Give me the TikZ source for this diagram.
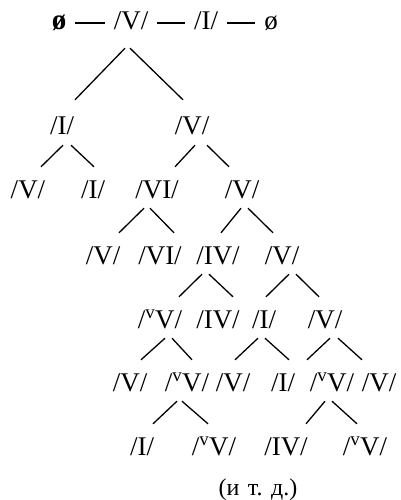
\documentclass[tikz,border=0pt]{standalone}
\usepackage{fontspec}
\setmainfont{Liberation Serif}
\usetikzlibrary{positioning}

\begin{document}
\begin{tikzpicture}[
  x=1pt, y=-1pt,
  chord/.style={inner sep=0pt, anchor=base, text height=31pt, text depth=10pt, font=\fontsize{27}{27}\selectfont},
  branch/.style={line width=1.3pt},
  link/.style={line width=1.1pt, shorten <=9pt, shorten >=9pt}
]
\useasboundingbox (0,0) rectangle (401,500);

% Top row
\node[chord, font=\fontsize{29}{29}\selectfont\bfseries] (z1) at (59,30) {ø};
\node[chord] (v0) at (131,30) {/V/};
\node[chord] (i0) at (206,30) {/I/};
\node[chord] (z2) at (271,30) {ø};

% Tree rows
\node[chord] (a) at (62,135) {/I/};
\node[chord] (b) at (192,135) {/V/};

\node[chord] (c1) at (28,198) {/V/};
\node[chord] (c2) at (93,198) {/I/};
\node[chord] (c3) at (157,198) {/VI/};
\node[chord] (c4) at (242,198) {/V/};

\node[chord] (d1) at (103,264) {/V/};
\node[chord] (d2) at (160,264) {/VI/};
\node[chord] (d3) at (218,264) {/IV/};
\node[chord] (d4) at (282,264) {/V/};

\node[chord] (e1) at (160,328) {/\textsuperscript{v}V/};
\node[chord] (e2) at (218,328) {/IV/};
\node[chord] (e3) at (264,328) {/I/};
\node[chord] (e4) at (325,328) {/V/};

\node[chord] (f1) at (130,391) {/V/};
\node[chord] (f2) at (187,391) {/\textsuperscript{v}V/};
\node[chord] (f3) at (233,391) {/V/};
\node[chord] (f4) at (283,391) {/I/};
\node[chord] (f5) at (332,391) {/\textsuperscript{v}V/};
\node[chord] (f6) at (379,391) {/V/};

\node[chord] (g1) at (142,455) {/I/};
\node[chord] (g2) at (214,455) {/\textsuperscript{v}V/};
\node[chord] (g3) at (286,455) {/IV/};
\node[chord] (g4) at (365,455) {/\textsuperscript{v}V/};

\node[chord, font=\fontsize{24}{24}\selectfont] (etc) at (258,495) {(и\hspace{0.35em}т.\hspace{0.35em}д.)};

% Dashes
\draw[link] ([yshift=7pt]z1.base east) -- ([yshift=7pt]v0.base west);
\draw[link] ([yshift=7pt]v0.base east) -- ([yshift=7pt]i0.base west);
\draw[link] ([yshift=7pt]i0.base east) -- ([yshift=7pt]z2.base west);

% Connections
\draw[branch] ([shift={(-6pt,-8pt)}]v0.south) -- ([shift={(13pt,4pt)}]a.north);
\draw[branch] ([shift={(-1pt,-8pt)}]v0.south) -- ([shift={(-9pt,4pt)}]b.north);

\draw[branch] ([xshift=1pt]a.south) -- ([xshift=13pt]c1.north);
\draw[branch] ([xshift=9pt]a.south) -- ([xshift=1pt]c2.north);
\draw[branch] ([xshift=3pt]b.south) -- ([xshift=18pt]c3.north);
\draw[branch] ([xshift=15pt]b.south) -- ([xshift=-13pt]c4.north);

\draw[branch] ([xshift=-13pt]c3.south) -- ([xshift=16pt]d1.north);
\draw[branch] ([xshift=-7pt]c3.south) -- ([xshift=14pt]d2.north);
\draw[branch] ([xshift=-1pt]c4.south) -- ([xshift=3pt]d3.north);
\draw[branch] ([xshift=6pt]c4.south) -- ([xshift=-9pt]d4.north);

\draw[branch] ([xshift=-16pt]d3.south) -- ([xshift=19pt]e1.north);
\draw[branch] ([xshift=-9pt]d3.south) -- ([xshift=15pt]e2.north);
\draw[branch] ([xshift=7pt]d4.south) -- ([xshift=2pt]e3.north);
\draw[branch] ([xshift=14pt]d4.south) -- ([xshift=-6pt]e4.north);

\draw[branch] ([xshift=5pt]e1.south) -- ([xshift=11pt]f1.north);
\draw[branch] ([xshift=12pt]e1.south) -- ([xshift=5pt]f2.north);
\draw[branch] ([xshift=-6pt]e3.south) -- ([xshift=2pt]f3.north);
\draw[branch] ([xshift=1pt]e3.south) -- ([xshift=6pt]f4.north);
\draw[branch] ([xshift=5pt]e4.south) -- ([xshift=-25pt]f5.north);
\draw[branch] ([xshift=13pt]e4.south) -- ([xshift=-17pt]f6.north);

\draw[branch] ([xshift=-10pt]f2.south) -- ([xshift=11pt]g1.north);
\draw[branch] ([xshift=-5pt]f2.south) -- ([xshift=-6pt]g2.north);
\draw[branch] ([xshift=-7pt]f5.south) -- ([xshift=20pt]g3.north);
\draw[branch] ([xshift=0pt]f5.south) -- ([xshift=-8pt]g4.north);

\end{tikzpicture}
\end{document}
